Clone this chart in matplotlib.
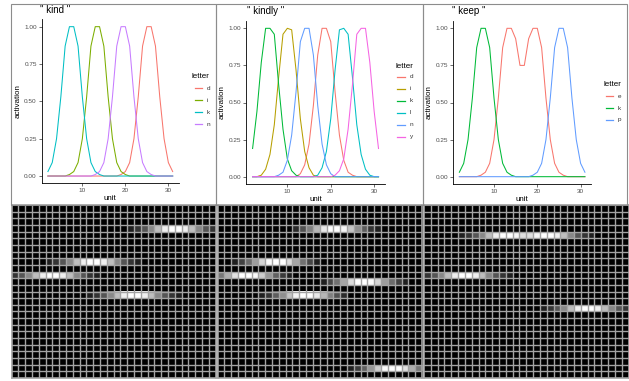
import matplotlib
matplotlib.use('Agg')
import numpy as np
import matplotlib.pyplot as plt
from matplotlib.colors import PowerNorm
from matplotlib.lines import Line2D
from matplotlib.patches import Rectangle

plt.rcParams['font.family'] = ['Liberation Sans', 'DejaVu Sans']

W, H = 629, 381

units = list(range(2, 32))
letters = list('abcdefghijklmnopqrstuvwxyz')

# activation per unit (units 2..31)
kind_d = [0, 0, 0, 0, 0, 0, 0, 0, 0, 0, 0, 0, 0, 0, 0, 0, 0,
          0.01, 0.03, 0.09, 0.25, 0.53, 0.87, 1.00, 1.00, 0.87, 0.53, 0.25, 0.09, 0.03]
kind_i = [0, 0, 0, 0, 0, 0.01, 0.03, 0.09, 0.25, 0.53, 0.87, 1.00, 1.00, 0.87, 0.53,
          0.25, 0.09, 0.03, 0.01, 0, 0, 0, 0, 0, 0, 0, 0, 0, 0, 0]
kind_k = [0.03, 0.09, 0.25, 0.53, 0.87, 1.00, 1.00, 0.87, 0.53, 0.25, 0.09, 0.03, 0.01,
          0, 0, 0, 0, 0, 0, 0, 0, 0, 0, 0, 0, 0, 0, 0, 0, 0]
kind_n = [0, 0, 0, 0, 0, 0, 0, 0, 0, 0, 0, 0.01, 0.03, 0.09, 0.25, 0.53, 0.87, 1.00,
          1.00, 0.87, 0.53, 0.25, 0.09, 0.03, 0.01, 0, 0, 0, 0, 0]

kindly_d = [0, 0, 0, 0, 0, 0, 0, 0, 0, 0, 0, 0.02, 0.08, 0.22, 0.48, 0.82, 1.00, 1.00,
            0.91, 0.57, 0.28, 0.11, 0.03, 0.01, 0, 0, 0, 0, 0, 0]
kindly_i = [0, 0, 0.01, 0.05, 0.15, 0.35, 0.67, 0.96, 1.00, 0.99, 0.72, 0.39, 0.17,
            0.06, 0.01, 0, 0, 0, 0, 0, 0, 0, 0, 0, 0, 0, 0, 0, 0, 0]
kindly_k = [0.19, 0.44, 0.77, 1.00, 1.00, 0.96, 0.62, 0.32, 0.12, 0.04, 0.01,
            0, 0, 0, 0, 0, 0, 0, 0, 0, 0, 0, 0, 0, 0, 0, 0, 0, 0, 0]
kindly_l = [0, 0, 0, 0, 0, 0, 0, 0, 0, 0, 0, 0, 0, 0, 0, 0.01, 0.06, 0.17, 0.39, 0.72,
            0.99, 1.00, 0.96, 0.67, 0.35, 0.15, 0.05, 0.01, 0, 0]
kindly_n = [0, 0, 0, 0, 0, 0, 0.01, 0.03, 0.11, 0.28, 0.57, 0.91, 1.00, 1.00, 0.82,
            0.48, 0.22, 0.08, 0.02, 0, 0, 0, 0, 0, 0, 0, 0, 0, 0, 0]
kindly_y = [0, 0, 0, 0, 0, 0, 0, 0, 0, 0, 0, 0, 0, 0, 0, 0, 0, 0, 0,
            0.01, 0.04, 0.12, 0.32, 0.62, 0.96, 1.00, 1.00, 0.77, 0.44, 0.19]

keep_e = [0, 0, 0, 0, 0, 0.01, 0.03, 0.09, 0.25, 0.53, 0.87, 1.00, 1.00, 0.93, 0.75,
          0.75, 0.93, 1.00, 1.00, 0.87, 0.53, 0.25, 0.09, 0.03, 0.01, 0, 0, 0, 0, 0]
keep_k = [0.03, 0.09, 0.25, 0.53, 0.87, 1.00, 1.00, 0.87, 0.53, 0.25, 0.09, 0.03, 0.01,
          0, 0, 0, 0, 0, 0, 0, 0, 0, 0, 0, 0, 0, 0, 0, 0, 0]
keep_p = [0, 0, 0, 0, 0, 0, 0, 0, 0, 0, 0, 0, 0, 0, 0, 0, 0,
          0.01, 0.03, 0.09, 0.25, 0.53, 0.87, 1.00, 1.00, 0.87, 0.53, 0.25, 0.09, 0.03]

words = [
    ('kind', {'d': kind_d, 'i': kind_i, 'k': kind_k, 'n': kind_n},
     ['#F8766D', '#7CAE00', '#00BFC4', '#C77CFF']),
    ('kindly', {'d': kindly_d, 'i': kindly_i, 'k': kindly_k, 'l': kindly_l,
                'n': kindly_n, 'y': kindly_y},
     ['#F8766D', '#B79F00', '#00BA38', '#00BFC4', '#619CFF', '#F564E3']),
    ('keep', {'e': keep_e, 'k': keep_k, 'p': keep_p},
     ['#F8766D', '#00BA38', '#619CFF']),
]

# pixel layout (left, top, right, bottom)
panel_boxes = [(11, 3.5, 216, 205), (216, 3.5, 423, 205), (423, 3.5, 627, 205)]
plot_boxes = [(41.7, 19.2, 178.9, 183.5), (246.3, 20.9, 384.8, 184.1),
              (453.1, 20.9, 591.2, 184.1)]
heat_boxes = [(11.5, 205, 215.5, 378), (217.5, 205, 422, 378), (424, 205, 628.5, 378)]
title_xy = [(40.5, 13), (247, 14.5), (452, 14.5)]
legend_xy = [(192, 77), (395, 66), (603, 85)]


def fbox(b):
    l, t, r, bt = b
    return [l / W, 1 - bt / H, (r - l) / W, (bt - t) / H]


fig = plt.figure(figsize=(W / 100, H / 100), dpi=100)

for n, (word, series, colors) in enumerate(words):
    # panel frame
    l, t, r, b = panel_boxes[n]
    fig.add_artist(Rectangle((l / W, 1 - b / H), (r - l) / W, (b - t) / H,
                             transform=fig.transFigure, fill=False,
                             ec='#8c8c8c', lw=0.8))

    ax = fig.add_axes(fbox(plot_boxes[n]))
    for (letter, vals), col in zip(series.items(), colors):
        ax.plot(units, vals, color=col, lw=0.75)
    ax.set_xlim(0.55, 32.45)
    ax.set_ylim(-0.05, 1.05)
    ax.set_xticks([10, 20, 30])
    ax.set_yticks([0, 0.25, 0.5, 0.75, 1.0])
    ax.set_yticklabels(['0.00', '0.25', '0.50', '0.75', '1.00'])
    for s in ['top', 'right']:
        ax.spines[s].set_visible(False)
    for s in ['left', 'bottom']:
        ax.spines[s].set_linewidth(0.6)
    ax.tick_params(labelsize=4.6, colors='#4d4d4d', length=2, width=0.5, pad=1.5)
    ax.tick_params(axis='both', which='both', color='#333333')
    ax.set_xlabel('unit', fontsize=5.8, labelpad=1.5)
    ax.set_ylabel('activation', fontsize=5.8, labelpad=2)

    tx, ty = title_xy[n]
    fig.text(tx / W, 1 - ty / H, '" %s "' % word, fontsize=7, va='baseline', ha='left')

    # legend
    lx, ly = legend_xy[n]
    fig.text(lx / W, 1 - ly / H, 'letter', fontsize=5.8, va='center', ha='left')
    for j, letter in enumerate(series.keys()):
        yy = ly + 11 + 12 * j
        fig.add_artist(Line2D([(lx + 2.5) / W, (lx + 9.5) / W], [1 - yy / H, 1 - yy / H],
                              transform=fig.transFigure, color=colors[j], lw=0.9))
        fig.text((lx + 15) / W, 1 - yy / H, letter, fontsize=4.6, va='center',
                 ha='left', color='#333333')

    # heatmap of letter x unit activations
    mat = np.zeros((len(letters), len(units)))
    for letter, vals in series.items():
        mat[letters.index(letter)] = vals
    hx = fig.add_axes(fbox(heat_boxes[n]))
    hx.imshow(mat, cmap='gray', norm=PowerNorm(gamma=1 / 2.2, vmin=0, vmax=1),
              extent=(0, len(units), len(letters), 0), aspect='auto',
              interpolation='nearest')
    hx.set_xticks(np.arange(1, len(units)), minor=True)
    hx.set_yticks(np.arange(1, len(letters)), minor=True)
    hx.set_xticks([])
    hx.set_yticks([])
    hx.grid(which='minor', color='#a3a3a3', lw=1.0)
    hx.tick_params(which='both', length=0)
    hx.set_xlim(0, len(units))
    hx.set_ylim(len(letters), 0)
    for s in hx.spines.values():
        s.set_edgecolor('#a3a3a3')
        s.set_linewidth(1.2)

fig.savefig('out.png', dpi=100, facecolor='white')
